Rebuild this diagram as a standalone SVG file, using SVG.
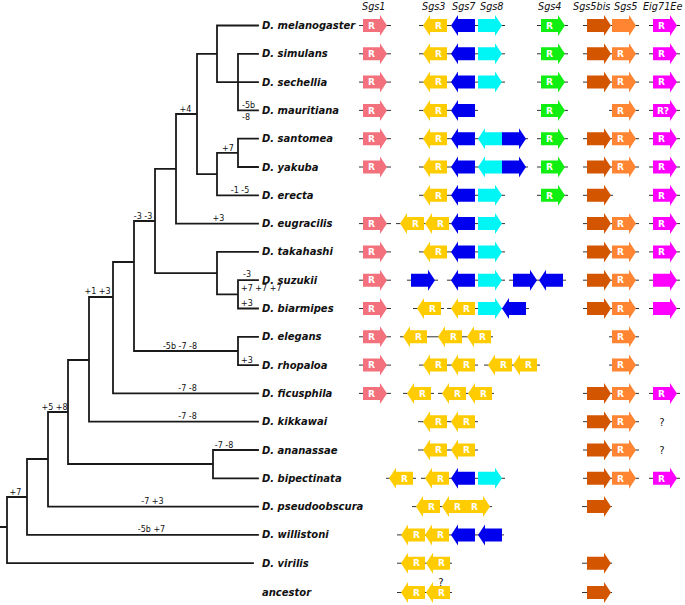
<svg xmlns="http://www.w3.org/2000/svg" xmlns:xlink="http://www.w3.org/1999/xlink" width="685" height="605" viewBox="0 0 685 605">
<style>
.sp{font-family:"DejaVu Sans",sans-serif;font-size:10px;font-weight:bold;font-style:italic;fill:#111}
.hd{font-family:"DejaVu Sans",sans-serif;font-size:9.7px;font-style:italic;fill:#111}
.bl{font-family:"DejaVu Sans",sans-serif;font-size:8px;fill:#111;text-anchor:middle}
.bs{font-family:"DejaVu Sans",sans-serif;font-size:8px;fill:#111}
.r{font-family:"DejaVu Sans",sans-serif;font-size:9px;font-weight:bold;fill:#fff;text-anchor:middle}
.q{font-family:"DejaVu Sans",sans-serif;font-size:10px;fill:#111;text-anchor:middle}
.bb{stroke:#333;stroke-width:1}
.tree{fill:none;stroke:#1a1a1a;stroke-width:1.8;stroke-linecap:square}
.c1{fill:#F2717D}.c3{fill:#FFCC00}.c7{fill:#0000EE}.c8{fill:#00F5F5}.c4{fill:#11EE11}
.c5b{fill:#D45500}.c5{fill:#FF8533}.ce{fill:#FF00FF}
</style>
<defs>
<path id="ar" d="M0,-6.5 H17 V-10.5 L24,0 L17,10.5 V6.5 H0 Z"/>
<path id="al" d="M24,-6.5 H7 V-10.5 L0,0 L7,10.5 V6.5 H24 Z"/>
</defs>

<g id="header">
<text class="hd" x="362" y="10">Sgs1</text>
<text class="hd" x="422" y="10">Sgs3</text>
<text class="hd" x="452" y="10">Sgs7</text>
<text class="hd" x="480" y="10">Sgs8</text>
<text class="hd" x="538" y="10">Sgs4</text>
<text class="hd" x="573" y="10">Sgs5bis</text>
<text class="hd" x="614" y="10">Sgs5</text>
<text class="hd" x="643" y="10">Eig71Ee</text>
</g>

<g id="connectors">
<path class="tree" d="M217,25.5 H258 M217,25.5 V82.1 M217,82.1 H258 M238,53.8 V110.4 M238,53.8 H258 M238,110.4 H258 M197,53.8 H217
M238,138.7 V167 M238,138.7 H258 M238,167 H258 M217,152.85 H238 M217,152.85 V195.3 H258 M197,174.1 H217 M197,53.8 V174.1
M176,114 H197 M176,114 V223.6 H258 M155,168.8 H176
M238,280.2 V308.5 M238,280.2 H258 M238,308.5 H258 M217,294.35 H238 M217,251.9 V294.35 M217,251.9 H258 M155,273.1 H217 M155,168.8 V273.1
M134,221 H155 M238,336.8 V365.1 M238,336.8 H258 M238,365.1 H258 M134,351 H238 M134,221 V351
M113,262 H134 M113,262 V393.4 H258 M89,297 H113 M89,297 V421.7 H258
M68,360 H89 M68,360 V464 H213 M213,450 V478.3 M213,450 H258 M213,478.3 H258
M48,412 H68 M48,412 V506.6 H258 M27,459 H48 M27,459 V534.9 H258
M7,497 H27 M7,497 V563.2 H253 M0,527 H7"/>
<g id="branch-labels">
<text class="bs" x="242" y="108">-5b</text>
<text class="bs" x="242" y="120">-8</text>
<text class="bl" x="228" y="150.5">+7</text>
<text class="bl" x="240" y="192.5">-1 -5</text>
<text class="bl" x="185.5" y="111.5">+4</text>
<text class="bl" x="218.5" y="221">+3</text>
<text class="bl" x="143" y="218.5">-3 -3</text>
<text class="bs" x="243" y="277">-3</text>
<text class="bs" x="241" y="291">+7 +7 +7</text>
<text class="bs" x="241" y="305.5">+3</text>
<text class="bl" x="180" y="348.5">-5b -7 -8</text>
<text class="bs" x="241" y="362.5">+3</text>
<text class="bl" x="187.5" y="390.5">-7 -8</text>
<text class="bl" x="97.5" y="294">+1 +3</text>
<text class="bl" x="187.5" y="419">-7 -8</text>
<text class="bl" x="224" y="447.5">-7 -8</text>
<text class="bl" x="54.5" y="409.5">+5 +8</text>
<text class="bl" x="152.5" y="504">-7 +3</text>
<text class="bl" x="151.5" y="532">-5b +7</text>
<text class="bl" x="15.5" y="494.5">+7</text>
</g>
</g>

<g id="mel" transform="translate(0,25.5)">
<text class="sp" x="262" y="3.5">D. melanogaster</text>
<line class="bb" x1="359" x2="391"/><line class="bb" x1="419" x2="505"/><line class="bb" x1="537" x2="568"/><line class="bb" x1="583" x2="639"/><line class="bb" x1="649" x2="680"/>
<use href="#ar" x="363" class="c1"/><text class="r" x="371.5" y="3.2">R</text>
<use href="#al" x="423" class="c3"/><text class="r" x="438.5" y="3.2">R</text>
<use href="#al" x="451" class="c7"/><use href="#ar" x="478" class="c8"/>
<use href="#ar" x="541" class="c4"/><text class="r" x="549.5" y="3.2">R</text>
<use href="#ar" x="587" class="c5b"/><use href="#ar" x="612" class="c5"/>
<use href="#ar" x="653" class="ce"/><text class="r" x="661.5" y="3.2">R</text>
</g>

<g id="sim" transform="translate(0,53.8)">
<text class="sp" x="262" y="3.5">D. simulans</text>
<line class="bb" x1="359" x2="391"/><line class="bb" x1="419" x2="505"/><line class="bb" x1="537" x2="568"/><line class="bb" x1="583" x2="639"/><line class="bb" x1="649" x2="680"/>
<use href="#ar" x="363" class="c1"/><text class="r" x="371.5" y="3.2">R</text>
<use href="#al" x="423" class="c3"/><text class="r" x="438.5" y="3.2">R</text>
<use href="#al" x="451" class="c7"/><use href="#ar" x="478" class="c8"/>
<use href="#ar" x="541" class="c4"/><text class="r" x="549.5" y="3.2">R</text>
<use href="#ar" x="587" class="c5b"/><use href="#ar" x="612" class="c5"/><text class="r" x="620.5" y="3.2">R</text>
<use href="#ar" x="653" class="ce"/><text class="r" x="661.5" y="3.2">R</text>
</g>

<g id="sec" transform="translate(0,82.1)">
<text class="sp" x="262" y="3.5">D. sechellia</text>
<line class="bb" x1="359" x2="391"/><line class="bb" x1="419" x2="505"/><line class="bb" x1="537" x2="568"/><line class="bb" x1="583" x2="639"/><line class="bb" x1="649" x2="680"/>
<use href="#ar" x="363" class="c1"/><text class="r" x="371.5" y="3.2">R</text>
<use href="#al" x="423" class="c3"/><text class="r" x="438.5" y="3.2">R</text>
<use href="#al" x="451" class="c7"/><use href="#ar" x="478" class="c8"/>
<use href="#ar" x="541" class="c4"/><text class="r" x="549.5" y="3.2">R</text>
<use href="#ar" x="587" class="c5b"/><use href="#ar" x="612" class="c5"/><text class="r" x="620.5" y="3.2">R</text>
<use href="#ar" x="653" class="ce"/><text class="r" x="661.5" y="3.2">R</text>
</g>

<g id="mau" transform="translate(0,110.4)">
<text class="sp" x="262" y="3.5">D. mauritiana</text>
<line class="bb" x1="359" x2="391"/><line class="bb" x1="419" x2="478"/><line class="bb" x1="537" x2="568"/><line class="bb" x1="609" x2="639"/><line class="bb" x1="649" x2="680"/>
<use href="#ar" x="363" class="c1"/><text class="r" x="371.5" y="3.2">R</text>
<use href="#al" x="423" class="c3"/><text class="r" x="438.5" y="3.2">R</text>
<use href="#al" x="451" class="c7"/>
<use href="#ar" x="541" class="c4"/><text class="r" x="549.5" y="3.2">R</text>
<use href="#ar" x="612" class="c5"/><text class="r" x="620.5" y="3.2">R</text>
<use href="#ar" x="653" class="ce"/><text class="r" x="663" y="3.2">R?</text>
</g>

<g id="san" transform="translate(0,138.7)">
<text class="sp" x="262" y="3.5">D. santomea</text>
<line class="bb" x1="359" x2="391"/><line class="bb" x1="419" x2="528"/><line class="bb" x1="537" x2="568"/><line class="bb" x1="583" x2="639"/><line class="bb" x1="649" x2="680"/>
<use href="#ar" x="363" class="c1"/><text class="r" x="371.5" y="3.2">R</text>
<use href="#al" x="423" class="c3"/><text class="r" x="438.5" y="3.2">R</text>
<use href="#al" x="451" class="c7"/><use href="#al" x="478" class="c8"/><use href="#ar" x="502" class="c7"/>
<use href="#ar" x="541" class="c4"/><text class="r" x="549.5" y="3.2">R</text>
<use href="#ar" x="587" class="c5b"/><use href="#ar" x="612" class="c5"/><text class="r" x="620.5" y="3.2">R</text>
<use href="#ar" x="653" class="ce"/><text class="r" x="661.5" y="3.2">R</text>
</g>

<g id="yak" transform="translate(0,167)">
<text class="sp" x="262" y="3.5">D. yakuba</text>
<line class="bb" x1="359" x2="391"/><line class="bb" x1="419" x2="528"/><line class="bb" x1="537" x2="568"/><line class="bb" x1="583" x2="639"/><line class="bb" x1="649" x2="680"/>
<use href="#ar" x="363" class="c1"/><text class="r" x="371.5" y="3.2">R</text>
<use href="#al" x="423" class="c3"/><text class="r" x="438.5" y="3.2">R</text>
<use href="#al" x="451" class="c7"/><use href="#al" x="478" class="c8"/><use href="#ar" x="502" class="c7"/>
<use href="#ar" x="541" class="c4"/><text class="r" x="549.5" y="3.2">R</text>
<use href="#ar" x="587" class="c5b"/><use href="#ar" x="612" class="c5"/><text class="r" x="620.5" y="3.2">R</text>
<use href="#ar" x="653" class="ce"/><text class="r" x="661.5" y="3.2">R</text>
</g>

<g id="ere" transform="translate(0,195.3)">
<text class="sp" x="262" y="3.5">D. erecta</text>
<line class="bb" x1="419" x2="505"/><line class="bb" x1="537" x2="568"/><line class="bb" x1="583" x2="613"/><line class="bb" x1="649" x2="680"/>
<use href="#al" x="423" class="c3"/><text class="r" x="438.5" y="3.2">R</text>
<use href="#al" x="451" class="c7"/><use href="#ar" x="478" class="c8"/>
<use href="#ar" x="541" class="c4"/><text class="r" x="549.5" y="3.2">R</text>
<use href="#ar" x="587" class="c5b"/>
<use href="#ar" x="653" class="ce"/><text class="r" x="661.5" y="3.2">R</text>
</g>

<g id="eug" transform="translate(0,223.6)">
<text class="sp" x="262" y="3.5">D. eugracilis</text>
<line class="bb" x1="359" x2="391"/><line class="bb" x1="396" x2="505"/><line class="bb" x1="583" x2="639"/><line class="bb" x1="649" x2="680"/>
<use href="#ar" x="363" class="c1"/><text class="r" x="371.5" y="3.2">R</text>
<use href="#al" x="400" class="c3"/><text class="r" x="415.5" y="3.2">R</text>
<use href="#al" x="425" class="c3"/><text class="r" x="440.5" y="3.2">R</text>
<use href="#al" x="451" class="c7"/><use href="#ar" x="478" class="c8"/>
<use href="#ar" x="587" class="c5b"/><use href="#ar" x="612" class="c5"/><text class="r" x="620.5" y="3.2">R</text>
<use href="#ar" x="653" class="ce"/><text class="r" x="661.5" y="3.2">R</text>
</g>

<g id="tak" transform="translate(0,251.9)">
<text class="sp" x="262" y="3.5">D. takahashi</text>
<line class="bb" x1="359" x2="391"/><line class="bb" x1="419" x2="505"/><line class="bb" x1="583" x2="639"/><line class="bb" x1="649" x2="680"/>
<use href="#ar" x="363" class="c1"/><text class="r" x="371.5" y="3.2">R</text>
<use href="#al" x="423" class="c3"/><text class="r" x="438.5" y="3.2">R</text>
<use href="#al" x="451" class="c7"/><use href="#ar" x="478" class="c8"/>
<use href="#ar" x="587" class="c5b"/><use href="#ar" x="612" class="c5"/><text class="r" x="620.5" y="3.2">R</text>
<use href="#ar" x="653" class="ce"/><text class="r" x="661.5" y="3.2">R</text>
</g>

<g id="suz" transform="translate(0,280.2)">
<text class="sp" x="262" y="3.5">D. suzukii</text>
<line class="bb" x1="359" x2="391"/><line class="bb" x1="407" x2="438"/><line class="bb" x1="447" x2="505"/><line class="bb" x1="509" x2="566"/><line class="bb" x1="583" x2="639"/><line class="bb" x1="649" x2="680"/>
<use href="#ar" x="363" class="c1"/><text class="r" x="371.5" y="3.2">R</text>
<use href="#ar" x="411" class="c7"/>
<use href="#al" x="451" class="c7"/><use href="#ar" x="478" class="c8"/>
<use href="#ar" x="513" class="c7"/><use href="#al" x="539" class="c7"/>
<use href="#ar" x="587" class="c5b"/><use href="#ar" x="612" class="c5"/><text class="r" x="620.5" y="3.2">R</text>
<use href="#ar" x="653" class="ce"/>
</g>

<g id="bia" transform="translate(0,308.5)">
<text class="sp" x="262" y="3.5">D. biarmipes</text>
<line class="bb" x1="359" x2="391"/><line class="bb" x1="413" x2="444"/><line class="bb" x1="447" x2="529"/><line class="bb" x1="583" x2="639"/><line class="bb" x1="649" x2="680"/>
<use href="#ar" x="363" class="c1"/><text class="r" x="371.5" y="3.2">R</text>
<use href="#al" x="417" class="c3"/><text class="r" x="432.5" y="3.2">R</text>
<use href="#al" x="451" class="c3"/><text class="r" x="466.5" y="3.2">R</text>
<use href="#ar" x="478" class="c8"/><use href="#al" x="502" class="c7"/>
<use href="#ar" x="587" class="c5b"/><use href="#ar" x="612" class="c5"/><text class="r" x="620.5" y="3.2">R</text>
<use href="#ar" x="653" class="ce"/>
</g>

<g id="ele" transform="translate(0,336.8)">
<text class="sp" x="262" y="3.5">D. elegans</text>
<line class="bb" x1="359" x2="391"/><line class="bb" x1="400" x2="493"/><line class="bb" x1="609" x2="639"/>
<use href="#ar" x="363" class="c1"/><text class="r" x="371.5" y="3.2">R</text>
<use href="#al" x="403" class="c3"/><text class="r" x="418.5" y="3.2">R</text>
<use href="#al" x="438" class="c3"/><text class="r" x="453.5" y="3.2">R</text>
<use href="#al" x="467" class="c3"/><text class="r" x="482.5" y="3.2">R</text>
<use href="#ar" x="612" class="c5"/><text class="r" x="620.5" y="3.2">R</text>
</g>

<g id="rho" transform="translate(0,365.1)">
<text class="sp" x="262" y="3.5">D. rhopaloa</text>
<line class="bb" x1="359" x2="391"/><line class="bb" x1="419" x2="478"/><line class="bb" x1="484" x2="540"/><line class="bb" x1="609" x2="639"/>
<use href="#ar" x="363" class="c1"/><text class="r" x="371.5" y="3.2">R</text>
<use href="#al" x="423" class="c3"/><text class="r" x="438.5" y="3.2">R</text>
<use href="#al" x="451" class="c3"/><text class="r" x="466.5" y="3.2">R</text>
<use href="#al" x="488" class="c3"/><text class="r" x="503.5" y="3.2">R</text>
<use href="#al" x="513" class="c3"/><text class="r" x="528.5" y="3.2">R</text>
<use href="#ar" x="612" class="c5"/><text class="r" x="620.5" y="3.2">R</text>
</g>

<g id="fic" transform="translate(0,393.4)">
<text class="sp" x="262" y="3.5">D. ficusphila</text>
<line class="bb" x1="359" x2="391"/><line class="bb" x1="403" x2="434"/><line class="bb" x1="438" x2="494"/><line class="bb" x1="583" x2="639"/><line class="bb" x1="649" x2="680"/>
<use href="#ar" x="363" class="c1"/><text class="r" x="371.5" y="3.2">R</text>
<use href="#al" x="407" class="c3"/><text class="r" x="422.5" y="3.2">R</text>
<use href="#al" x="442" class="c3"/><text class="r" x="457.5" y="3.2">R</text>
<use href="#al" x="468" class="c3"/><text class="r" x="483.5" y="3.2">R</text>
<use href="#ar" x="587" class="c5b"/><use href="#ar" x="612" class="c5"/><text class="r" x="620.5" y="3.2">R</text>
<use href="#ar" x="653" class="ce"/><text class="r" x="661.5" y="3.2">R</text>
</g>

<g id="kik" transform="translate(0,421.7)">
<text class="sp" x="262" y="3.5">D. kikkawai</text>
<line class="bb" x1="418" x2="478"/><line class="bb" x1="583" x2="639"/>
<use href="#al" x="423" class="c3"/><text class="r" x="438.5" y="3.2">R</text>
<use href="#al" x="451" class="c3"/><text class="r" x="466.5" y="3.2">R</text>
<use href="#ar" x="587" class="c5b"/><use href="#ar" x="612" class="c5"/><text class="r" x="620.5" y="3.2">R</text>
<text class="q" x="662" y="4">?</text>
</g>

<g id="ana" transform="translate(0,450)">
<text class="sp" x="262" y="3.5">D. ananassae</text>
<line class="bb" x1="418" x2="478"/><line class="bb" x1="583" x2="639"/>
<use href="#al" x="423" class="c3"/><text class="r" x="438.5" y="3.2">R</text>
<use href="#al" x="451" class="c3"/><text class="r" x="466.5" y="3.2">R</text>
<use href="#ar" x="587" class="c5b"/><use href="#ar" x="612" class="c5"/><text class="r" x="620.5" y="3.2">R</text>
<text class="q" x="662" y="4">?</text>
</g>

<g id="bip" transform="translate(0,478.3)">
<text class="sp" x="262" y="3.5">D. bipectinata</text>
<line class="bb" x1="386" x2="416"/><line class="bb" x1="421" x2="505"/><line class="bb" x1="583" x2="639"/><line class="bb" x1="649" x2="680"/>
<use href="#al" x="389" class="c3"/><text class="r" x="404.5" y="3.2">R</text>
<use href="#al" x="425" class="c3"/><text class="r" x="440.5" y="3.2">R</text>
<use href="#al" x="451" class="c7"/><use href="#ar" x="478" class="c8"/>
<use href="#ar" x="587" class="c5b"/><use href="#ar" x="612" class="c5"/><text class="r" x="620.5" y="3.2">R</text>
<use href="#ar" x="653" class="ce"/><text class="r" x="661.5" y="3.2">R</text>
</g>

<g id="pse" transform="translate(0,506.6)">
<text class="sp" x="262" y="3.5">D. pseudoobscura</text>
<line class="bb" x1="412" x2="492"/><line class="bb" x1="582" x2="612"/>
<use href="#al" x="416" class="c3"/><text class="r" x="431.5" y="3.2">R</text>
<use href="#al" x="442" class="c3"/><text class="r" x="457.5" y="3.2">R</text>
<use href="#ar" x="466" class="c3"/><text class="r" x="474.5" y="3.2">R</text>
<use href="#ar" x="587" class="c5b"/>
</g>

<g id="wil" transform="translate(0,534.9)">
<text class="sp" x="262" y="3.5">D. willistoni</text>
<line class="bb" x1="397" x2="504"/>
<use href="#al" x="401" class="c3"/><text class="r" x="416.5" y="3.2">R</text>
<use href="#al" x="425" class="c3"/><text class="r" x="440.5" y="3.2">R</text>
<use href="#al" x="451" class="c7"/><use href="#al" x="478" class="c7"/>
</g>

<g id="vir" transform="translate(0,563.2)">
<text class="sp" x="262" y="3.5">D. virilis</text>
<line class="bb" x1="397" x2="452"/><line class="bb" x1="582" x2="612"/>
<use href="#al" x="401" class="c3"/><text class="r" x="416.5" y="3.2">R</text>
<use href="#al" x="426" class="c3"/><text class="r" x="441.5" y="3.2">R</text>
<use href="#ar" x="587" class="c5b"/>
</g>

<g id="anc" transform="translate(0,592.5)">
<text class="sp" x="262" y="3.5">ancestor</text>
<line class="bb" x1="397" x2="452"/><line class="bb" x1="582" x2="612"/>
<use href="#al" x="401" class="c3"/><text class="r" x="416.5" y="3.2">R</text>
<use href="#al" x="426" class="c3"/><text class="r" x="441.5" y="3.2">R</text>
<text class="q" x="441" y="-7">?</text>
<use href="#ar" x="587" class="c5b"/>
</g>
</svg>
